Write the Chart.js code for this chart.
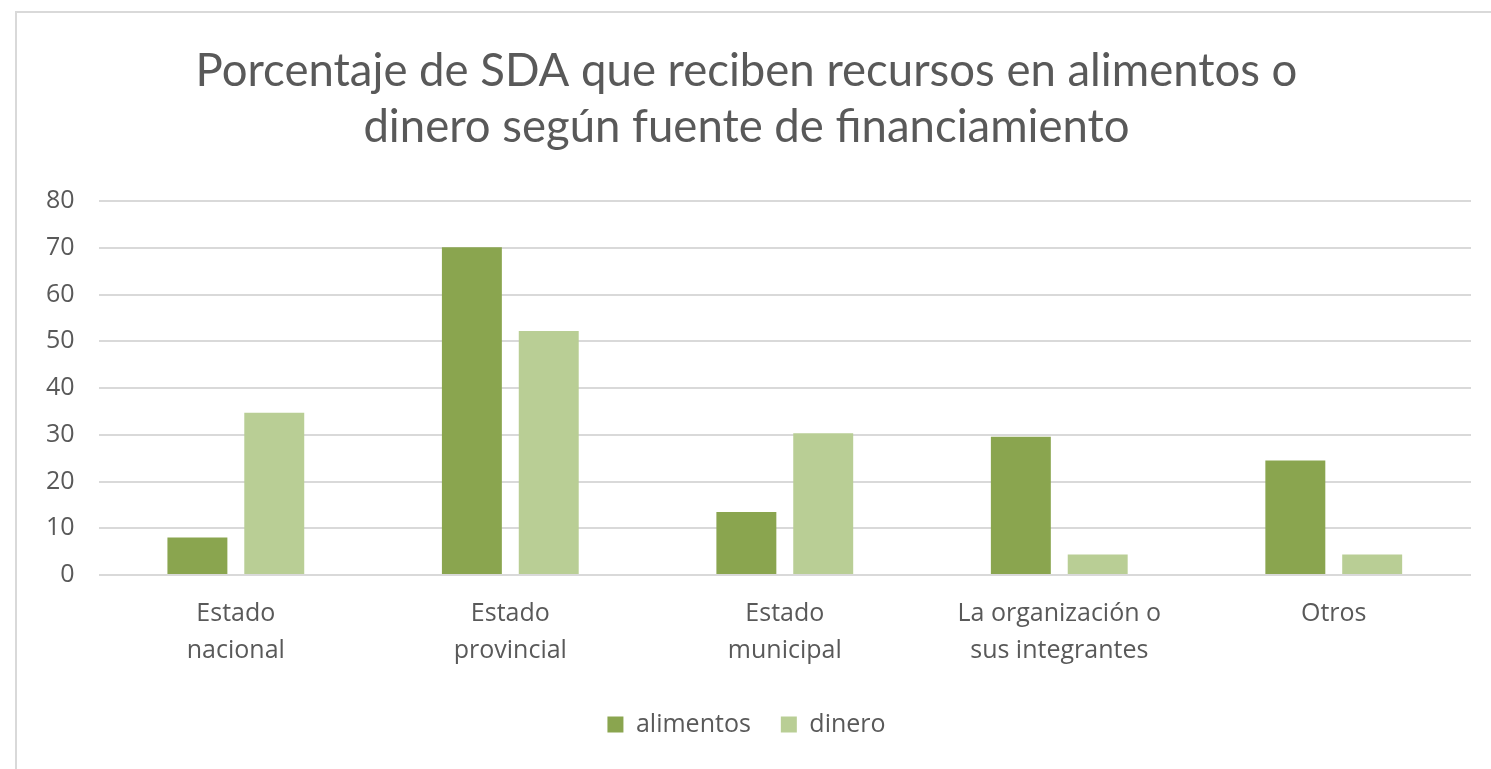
<!DOCTYPE html>
<html>
<head>
<meta charset="utf-8">
<script src="https://cdn.jsdelivr.net/npm/chart.js@4.4.7/dist/chart.umd.min.js"></script>
<style>
  html, body { margin: 0; padding: 0; background: #fff; }
  #frame {
    position: absolute; left: 15px; top: 11px; width: 1500px; height: 800px;
    border-left: 2px solid #d9d9d9; border-top: 2px solid #d9d9d9;
  }
  #wrap { position: absolute; left: 0; top: 0; width: 1491px; height: 769px; }
</style>
</head>
<body>
<div id="frame"></div>
<div id="wrap"><canvas id="chart"></canvas></div>
<script>
// categories (multi-line labels as Excel wraps them)
const categories = [
  ['Estado', 'nacional'],
  ['Estado', 'provincial'],
  ['Estado', 'municipal'],
  ['La organización o', 'sus integrantes'],
  ['Otros']
];
const alimentos = [8.0, 70.1, 13.5, 29.6, 24.5];
const dinero = [34.7, 52.2, 30.3, 4.4, 4.4];
const titleLines = [
  'Porcentaje de SDA que reciben recursos en alimentos o',
  'dinero según fuente de financiamiento'
];

const textColor = '#595959';
const titleFont = 'Lato, "Open Sans", sans-serif';
const labelFont = '"Open Sans", Lato, sans-serif';

new Chart(document.getElementById('chart'), {
  type: 'bar',
  data: {
    labels: categories,
    datasets: [
      { label: 'alimentos', data: alimentos, backgroundColor: '#8aa54f' },
      { label: 'dinero', data: dinero, backgroundColor: '#b9ce95' }
    ]
  },
  options: {
    responsive: true,
    maintainAspectRatio: false,
    animation: false,
    layout: { padding: { left: 22, right: 20, top: 44, bottom: 22 } },
    datasets: {
      bar: { categoryPercentage: 0.56, barPercentage: 0.78 }
    },
    plugins: {
      title: {
        display: true,
        text: titleLines,
        color: textColor,
        font: { family: titleFont, size: 45.5, weight: 'normal', lineHeight: 1.22 },
        padding: { top: 0, bottom: 46 }
      },
      legend: {
        position: 'bottom',
        labels: {
          color: textColor,
          font: { family: labelFont, size: 25 },
          boxWidth: 16,
          boxHeight: 16,
          padding: 30
        }
      },
      tooltip: { enabled: false }
    },
    scales: {
      x: {
        grid: { display: false },
        border: { display: false },
        ticks: {
          color: textColor,
          font: { family: labelFont, size: 25, lineHeight: 1.5 },
          maxRotation: 0,
          padding: 12
        }
      },
      y: {
        min: 0,
        max: 80,
        grid: { color: '#d9d9d9', lineWidth: 2, drawTicks: false },
        border: { display: false },
        ticks: {
          stepSize: 10,
          color: textColor,
          font: { family: labelFont, size: 25 },
          padding: 24
        }
      }
    }
  }
});
</script>
</body>
</html>
